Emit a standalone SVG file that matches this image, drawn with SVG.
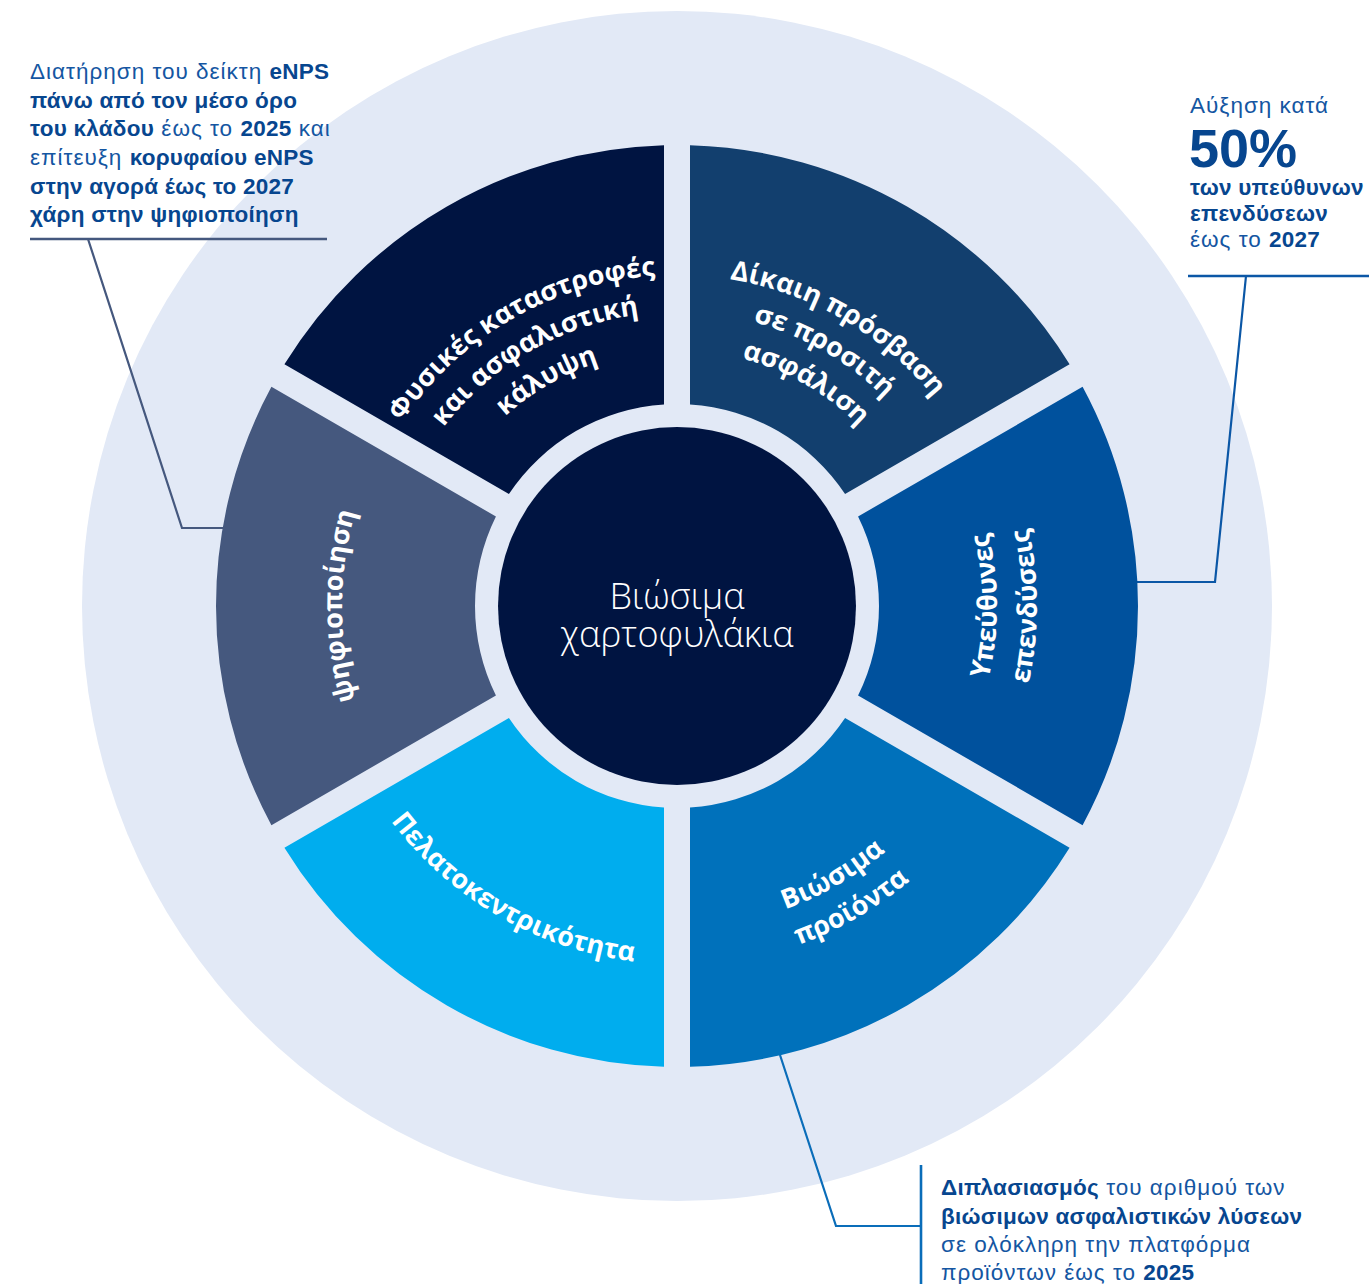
<svg xmlns="http://www.w3.org/2000/svg" width="1369" height="1284" viewBox="0 0 1369 1284">
<style>
.seg-label{font-family:"Open Sans","Noto Sans","DejaVu Sans",sans-serif;font-weight:700;font-size:27px;fill:#ffffff}
.note{font-family:"Liberation Sans",Arial,sans-serif;font-size:22.5px;letter-spacing:1px;fill:#1456A2}
.b{font-weight:700;letter-spacing:0.25px;fill:#07468F}
.center-label{font-family:"Open Sans","Liberation Sans",Arial,sans-serif;font-weight:300;font-size:36px;fill:#ffffff}
.conn{fill:none;stroke-width:2.2}
</style>
<defs>
<path id="pF1" d="M357.28 520.33 A331 331 0 0 1 762.67 286.28"/>
<path id="pF2" d="M393.02 529.91 A294 294 0 0 1 753.09 322.02"/>
<path id="pF3" d="M429.72 539.74 A256 256 0 0 1 743.26 358.72"/>
<path id="pA1" d="M591.33 286.28 A331 331 0 0 1 996.72 520.33"/>
<path id="pA2" d="M600.91 322.02 A294 294 0 0 1 960.98 529.91"/>
<path id="pA3" d="M610.74 358.72 A256 256 0 0 1 924.28 539.74"/>
<path id="pB1" d="M903.27 832.27 A320 320 0 0 0 903.27 379.73"/>
<path id="pB2" d="M931.56 860.56 A360 360 0 0 0 931.56 351.44"/>
<path id="pC1" d="M593.66 917.03 A322 322 0 0 0 988.03 689.34"/>
<path id="pC2" d="M583.83 953.73 A360 360 0 0 0 1024.73 699.17"/>
<path id="pD1" d="M331.20 698.66 A358 358 0 0 0 769.66 951.80"/>
<path id="pE1" d="M440.12 842.88 A335 335 0 0 1 440.12 369.12"/>
</defs>

<g id="background">
<circle cx="677" cy="606" r="595" fill="#E2E9F6"/>
</g>

<g id="connectors">
<line x1="30" y1="239" x2="327" y2="239" stroke="#45587E" stroke-width="2.6"/>
<polyline class="conn" stroke="#45587E" points="88,239 182,528 223,528"/>
<line x1="1188" y1="276" x2="1369" y2="276" stroke="#0B57A6" stroke-width="2.6"/>
<polyline class="conn" stroke="#0B57A6" points="1246,276 1215,582 1137,582"/>
<polyline class="conn" stroke="#0A6DB9" points="780,1055 836,1226 921,1226"/>
<line x1="921" y1="1165" x2="921" y2="1284" stroke="#0A6DB9" stroke-width="2.6"/>
</g>

<g id="seg-top-right">
<path fill="#123F6E" d="M690 145.18 A461 461 0 0 1 1069.58 364.33 L845.07 493.95 A202 202 0 0 0 690 404.42 Z"/>
<text class="seg-label" text-anchor="middle"><textPath href="#pA1" startOffset="50%">Δίκαιη πρόσβαση</textPath></text>
<text class="seg-label" text-anchor="middle"><textPath href="#pA2" startOffset="50%">σε προσιτή</textPath></text>
<text class="seg-label" text-anchor="middle"><textPath href="#pA3" startOffset="50%">ασφάλιση</textPath></text>
</g>

<g id="seg-right">
<path fill="#00519D" d="M1082.58 386.85 A461 461 0 0 1 1082.58 825.15 L858.07 695.53 A202 202 0 0 0 858.07 516.47 Z"/>
<text class="seg-label" text-anchor="middle"><textPath href="#pB1" startOffset="50%">Υπεύθυνες</textPath></text>
<text class="seg-label" text-anchor="middle"><textPath href="#pB2" startOffset="50%">επενδύσεις</textPath></text>
</g>

<g id="seg-bottom-right">
<path fill="#0071BB" d="M1069.58 847.67 A461 461 0 0 1 690 1066.82 L690 807.58 A202 202 0 0 0 845.07 718.05 Z"/>
<text class="seg-label" text-anchor="middle"><textPath href="#pC1" startOffset="50%">Βιώσιμα</textPath></text>
<text class="seg-label" text-anchor="middle"><textPath href="#pC2" startOffset="50%">προϊόντα</textPath></text>
</g>

<g id="seg-bottom-left">
<path fill="#00ADEE" d="M664 1066.82 A461 461 0 0 1 284.42 847.67 L508.93 718.05 A202 202 0 0 0 664 807.58 Z"/>
<text class="seg-label" text-anchor="middle"><textPath href="#pD1" startOffset="50%">Πελατοκεντρικότητα</textPath></text>
</g>

<g id="seg-left">
<path fill="#45587E" d="M271.42 825.15 A461 461 0 0 1 271.42 386.85 L495.93 516.47 A202 202 0 0 0 495.93 695.53 Z"/>
<text class="seg-label" text-anchor="middle"><textPath href="#pE1" startOffset="50%">ψηφιοποίηση</textPath></text>
</g>

<g id="seg-top-left">
<path fill="#001441" d="M284.42 364.33 A461 461 0 0 1 664 145.18 L664 404.42 A202 202 0 0 0 508.93 493.95 Z"/>
<text class="seg-label" text-anchor="middle"><textPath href="#pF1" startOffset="50%">Φυσικές καταστροφές</textPath></text>
<text class="seg-label" text-anchor="middle"><textPath href="#pF2" startOffset="50%">και ασφαλιστική</textPath></text>
<text class="seg-label" text-anchor="middle"><textPath href="#pF3" startOffset="50%">κάλυψη</textPath></text>
</g>

<g id="center">
<circle cx="677" cy="606" r="179" fill="#001441"/>
<text class="center-label" x="677" y="609" text-anchor="middle">Βιώσιμα</text>
<text class="center-label" x="677" y="647" text-anchor="middle">χαρτοφυλάκια</text>
</g>

<g id="note-top-left">
<text class="note" x="30" y="79">Διατήρηση του δείκτη <tspan class="b">eNPS</tspan></text>
<text class="note b" x="30" y="107.5">πάνω από τον μέσο όρο</text>
<text class="note" x="30" y="136"><tspan class="b">του κλάδου</tspan> έως το <tspan class="b">2025</tspan> και</text>
<text class="note" x="30" y="165">επίτευξη <tspan class="b">κορυφαίου eNPS</tspan></text>
<text class="note b" x="30" y="193.5">στην αγορά έως το 2027</text>
<text class="note b" x="30" y="222">χάρη στην ψηφιοποίηση</text>
</g>

<g id="note-top-right">
<text class="note" x="1190" y="113">Αύξηση κατά</text>
<text class="note b" x="1189" y="167" style="font-size:54px;letter-spacing:0">50%</text>
<text class="note b" x="1190" y="195">των υπεύθυνων</text>
<text class="note b" x="1190" y="221">επενδύσεων</text>
<text class="note" x="1190" y="247">έως το <tspan class="b">2027</tspan></text>
</g>

<g id="note-bottom">
<text class="note" x="941" y="1195"><tspan class="b">Διπλασιασμός</tspan> του αριθμού των</text>
<text class="note b" x="941" y="1223.5">βιώσιμων ασφαλιστικών λύσεων</text>
<text class="note" x="941" y="1252">σε ολόκληρη την πλατφόρμα</text>
<text class="note" x="941" y="1280">προϊόντων έως το <tspan class="b">2025</tspan></text>
</g>
</svg>
